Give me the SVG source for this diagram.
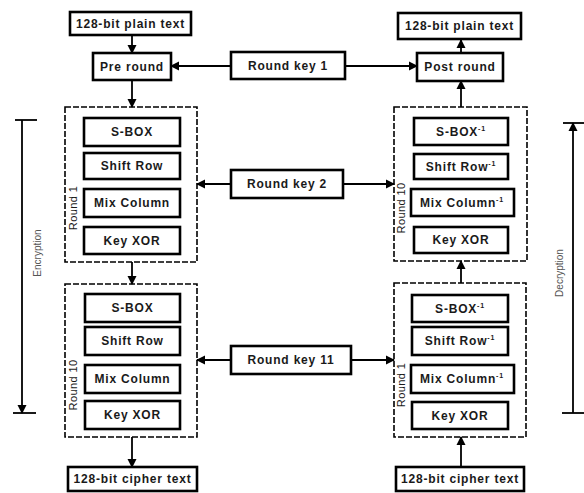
<svg xmlns="http://www.w3.org/2000/svg" width="584" height="493" viewBox="0 0 584 493">
<style>
.bx{fill:#fff;stroke:#000;stroke-width:2.6}
.dash{fill:none;stroke:#000;stroke-width:1.6;stroke-dasharray:6 2}
.t{font-family:"Liberation Sans",Arial,sans-serif;font-weight:bold;font-size:12px;letter-spacing:0.8px;fill:#1a1a1a;text-anchor:middle;dominant-baseline:central}
.rl{font-family:"Liberation Sans",Arial,sans-serif;font-size:11px;letter-spacing:0.4px;fill:#1a1a1a;text-anchor:middle;dominant-baseline:central}
.side{font-family:"Liberation Sans",Arial,sans-serif;font-size:10px;fill:#555;text-anchor:middle;dominant-baseline:central}
.sup{font-size:7px}
.ln{fill:none;stroke:#000;stroke-width:1.8}
</style>
<defs>
<marker id="ah" markerUnits="userSpaceOnUse" markerWidth="10" markerHeight="10" refX="8" refY="5" orient="auto">
<path d="M0,0.5 L9,5 L0,9.5 Z" fill="#000"/>
</marker>
</defs>

<g id="connectors">
<line class="ln" x1="132" y1="35" x2="132" y2="53" marker-end="url(#ah)"/>
<line class="ln" x1="132" y1="80" x2="132" y2="107" marker-end="url(#ah)"/>
<line class="ln" x1="231" y1="66" x2="171" y2="66" marker-end="url(#ah)"/>
<line class="ln" x1="345" y1="66" x2="417" y2="66" marker-end="url(#ah)"/>
<line class="ln" x1="461" y1="53" x2="461" y2="40" marker-end="url(#ah)"/>
<line class="ln" x1="461" y1="107" x2="461" y2="81" marker-end="url(#ah)"/>
<line class="ln" x1="231" y1="184" x2="197" y2="184" stroke-width="2.4" marker-end="url(#ah)"/>
<line class="ln" x1="343" y1="184" x2="394" y2="184" stroke-width="2.4" marker-end="url(#ah)"/>
<line class="ln" x1="132" y1="262" x2="132" y2="284" stroke-width="2.4" marker-end="url(#ah)"/>
<line class="ln" x1="461" y1="283" x2="461" y2="261" stroke-width="2.4" marker-end="url(#ah)"/>
<line class="ln" x1="231" y1="360" x2="197" y2="360" marker-end="url(#ah)"/>
<line class="ln" x1="351" y1="360" x2="394" y2="360" marker-end="url(#ah)"/>
<line class="ln" x1="132" y1="437" x2="132" y2="467" marker-end="url(#ah)"/>
<line class="ln" x1="461" y1="467" x2="461" y2="437" marker-end="url(#ah)"/>
</g>

<g id="encryption">
<line class="ln" x1="22" y1="120" x2="22" y2="413" marker-end="url(#ah)"/>
<line class="ln" x1="15" y1="120" x2="37" y2="120"/>
<line class="ln" x1="13" y1="413" x2="36" y2="413"/>
<text class="side" transform="translate(37,253) rotate(-90)">Encryption</text>
</g>
<g id="decryption">
<line class="ln" x1="573" y1="413" x2="573" y2="123" stroke-width="2.6" marker-end="url(#ah)"/>
<line class="ln" x1="563" y1="123" x2="584" y2="123"/>
<line class="ln" x1="562" y1="413" x2="584" y2="413"/>
<text class="side" transform="translate(559,273) rotate(-90)">Decryption</text>
</g>

<g id="plain-in"><rect class="bx" x="70" y="12" width="121" height="23"/><text class="t" x="130.5" y="24">128-bit plain text</text></g>
<g id="pre-round"><rect class="bx" x="93" y="53" width="78" height="27"/><text class="t" x="132" y="67">Pre round</text></g>
<g id="round-key-1"><rect class="bx" x="231" y="52" width="114" height="27"/><text class="t" x="288" y="66">Round key 1</text></g>
<g id="post-round"><rect class="bx" x="417" y="53" width="86" height="28"/><text class="t" x="460" y="67">Post round</text></g>
<g id="plain-out"><rect class="bx" x="398" y="13" width="123" height="26"/><text class="t" x="459.5" y="26">128-bit plain text</text></g>

<g id="enc-round-1">
<rect class="dash" x="65" y="107" width="132" height="155"/>
<text class="rl" transform="translate(73,208) rotate(-90)">Round 1</text>
<rect class="bx" x="84" y="118" width="96" height="28"/><text class="t" x="132" y="132">S-BOX</text>
<rect class="bx" x="84" y="153" width="96" height="26"/><text class="t" x="132" y="166">Shift Row</text>
<rect class="bx" x="84" y="189" width="96" height="28"/><text class="t" x="132" y="203">Mix Column</text>
<rect class="bx" x="84" y="227" width="96" height="27"/><text class="t" x="132" y="240.5">Key XOR</text>
</g>

<g id="dec-round-10">
<rect class="dash" x="394" y="107" width="133" height="154"/>
<text class="rl" transform="translate(401,208) rotate(-90)">Round 10</text>
<rect class="bx" x="414" y="118" width="94" height="27"/><text class="t" x="461" y="131.5">S-BOX<tspan class="sup" dy="-4">-1</tspan></text>
<rect class="bx" x="414" y="154" width="94" height="25"/><text class="t" x="461" y="166.5">Shift Row<tspan class="sup" dy="-4">-1</tspan></text>
<rect class="bx" x="411" y="189" width="103" height="27"/><text class="t" x="462" y="202.5">Mix Column<tspan class="sup" dy="-4">-1</tspan></text>
<rect class="bx" x="414" y="227" width="94" height="26"/><text class="t" x="461" y="240">Key XOR</text>
</g>

<g id="round-key-2"><rect class="bx" x="231" y="170" width="112" height="28"/><text class="t" x="287" y="184">Round key 2</text></g>

<g id="enc-round-10">
<rect class="dash" x="65" y="284" width="132" height="153"/>
<text class="rl" transform="translate(73,385) rotate(-90)">Round 10</text>
<rect class="bx" x="85" y="294" width="95" height="28"/><text class="t" x="132.5" y="308">S-BOX</text>
<rect class="bx" x="85" y="327" width="95" height="28"/><text class="t" x="132.5" y="341">Shift Row</text>
<rect class="bx" x="85" y="365" width="95" height="28"/><text class="t" x="132.5" y="379">Mix Column</text>
<rect class="bx" x="85" y="401" width="95" height="28"/><text class="t" x="132.5" y="415">Key XOR</text>
</g>

<g id="dec-round-1">
<rect class="dash" x="394" y="283" width="132" height="154"/>
<text class="rl" transform="translate(401,385) rotate(-90)">Round 1</text>
<rect class="bx" x="412" y="295" width="96" height="27"/><text class="t" x="460" y="308.5">S-BOX<tspan class="sup" dy="-4">-1</tspan></text>
<rect class="bx" x="412" y="327" width="96" height="28"/><text class="t" x="460" y="341">Shift Row<tspan class="sup" dy="-4">-1</tspan></text>
<rect class="bx" x="411" y="365" width="103" height="28"/><text class="t" x="462" y="379">Mix Column<tspan class="sup" dy="-4">-1</tspan></text>
<rect class="bx" x="412" y="402" width="96" height="27"/><text class="t" x="460" y="415.5">Key XOR</text>
</g>

<g id="round-key-11"><rect class="bx" x="231" y="346" width="120" height="28"/><text class="t" x="291" y="360">Round key 11</text></g>

<g id="cipher-out"><rect class="bx" x="68" y="467" width="129" height="24"/><text class="t" x="132.5" y="479">128-bit cipher text</text></g>
<g id="cipher-in"><rect class="bx" x="396" y="467" width="128" height="24"/><text class="t" x="460" y="479">128-bit cipher text</text></g>
</svg>
